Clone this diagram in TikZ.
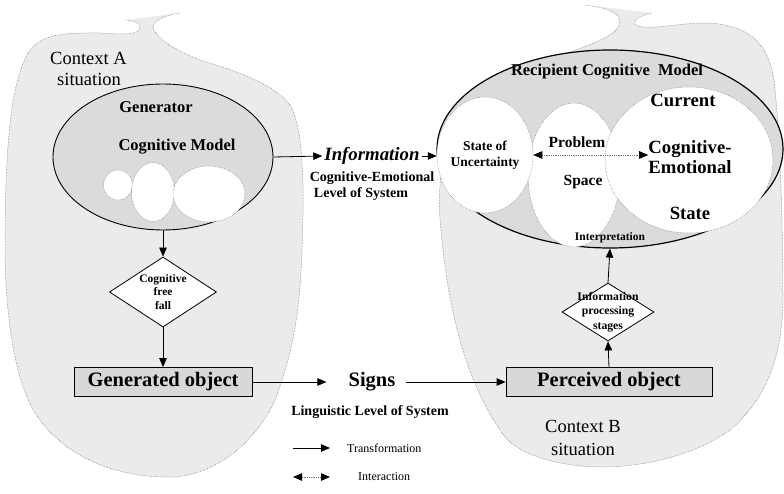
\documentclass[tikz,border=0pt]{standalone}
\usepackage{fontspec}
\setmainfont{Liberation Serif}
\usetikzlibrary{shapes.geometric, arrows.meta}
\definecolor{ctxgray}{RGB}{235,235,235}
\definecolor{modelgray}{RGB}{219,219,219}
\definecolor{boxgray}{RGB}{216,216,216}
\newcommand{\fsz}[2]{\fontsize{#1pt}{#2pt}\selectfont}

\begin{document}
\begin{tikzpicture}[
    x = 1pt, y = -1pt,
    flow/.style = {draw, -{Triangle[length=9pt, width=7.5pt]}, line width = 0.8pt},
    interact/.style = {draw = black!55, densely dotted, line width = 0.8pt,
      {Triangle[length=9pt, width=7.5pt, color=black]}-{Triangle[length=9pt, width=7.5pt, color=black]}}
  ]
  \tikzstyle {context} = [fill = ctxgray, draw = black!60, densely dotted, line width = 0.5pt]
  \tikzstyle {model} = [draw, shape = ellipse, fill = modelgray, line width = 0.9pt, inner sep = 0]
  \tikzstyle {subspace} = [draw = black!55, densely dotted, shape = ellipse, fill = white, line width = 0.5pt, inner sep = 0]
  \tikzstyle {object} = [draw, shape = rectangle, fill = boxgray, line width = 0.8pt, inner sep = 0,
    font = \bfseries\fsz{20.5}{24}]
  \tikzstyle {stage} = [draw, shape = diamond, fill = white, line width = 0.8pt, inner sep = 0]
  \tikzstyle {tag} = [align = center, inner sep = 0]
  \useasboundingbox (0,0) rectangle (784,494);
  % context situations
  \draw [context] (180,13) .. controls (162,16) and (150,22) .. (154,30)
    .. controls (160,42) and (180,52) .. (200,60)
    .. controls (240,72) and (275,85) .. (290,105)
    .. controls (305,130) and (304,200) .. (302,250)
    .. controls (300,320) and (290,360) .. (275,400)
    .. controls (262,430) and (225,474) .. (173,477)
    .. controls (120,478) and (70,460) .. (40,420)
    .. controls (12,385) and (5,300) .. (5,250)
    .. controls (5,150) and (10,80) .. (30,50)
    .. controls (45,32) and (70,33) .. (100,33)
    .. controls (120,34) and (138,36) .. (140,28)
    .. controls (141,22) and (130,20) .. (125,20);
  \draw [context] (652,13) .. controls (638,16) and (630,22) .. (638,26)
    .. controls (650,30) and (680,23) .. (705,23)
    .. controls (745,24) and (768,40) .. (774,80)
    .. controls (780,130) and (783,230) .. (783,300)
    .. controls (782,360) and (765,400) .. (730,430)
    .. controls (700,452) and (650,467) .. (603,467)
    .. controls (560,467) and (520,455) .. (505,437)
    .. controls (470,390) and (448,320) .. (440,220)
    .. controls (437,170) and (445,130) .. (480,110)
    .. controls (520,80) and (550,60) .. (570,52)
    .. controls (605,40) and (624,30) .. (619,18)
    .. controls (615,10) and (600,7) .. (585,5);
  % place nodes
  \path node (gen) [model, minimum width = 220, minimum height = 146] at (163,157) {};
  \path node (gc1) [subspace, minimum width = 29, minimum height = 30] at (118,185) {};
  \path node (gc2) [subspace, minimum width = 43, minimum height = 59] at (153,192) {};
  \path node (gc3) [subspace, minimum width = 72, minimum height = 56] at (209,194) {};
  \path node (recip) [model, line width = 1.2pt, minimum width = 346, minimum height = 198] at (610,149) {};
  \path node (problem) [subspace, minimum width = 92, minimum height = 144] at (574,175) {};
  \path node (uncert) [subspace, minimum width = 96, minimum height = 116] at (485,155) {};
  \path node (current) [subspace, minimum width = 168, minimum height = 146] at (689,160) {};
  \path node (genT) [tag, font = \bfseries\fsz{16.5}{20}] at (156,107) {Generator};
  \path node (genM) [tag, font = \bfseries\fsz{16.5}{20}] at (177,147) {Cognitive Model};
  \path node (recT) [tag, font = \bfseries\fsz{16.5}{20}] at (607,72) {Recipient Cognitive\ \ Model};
  \path node (curT) [tag, font = \bfseries\fsz{18.7}{22}] at (683,100) {Current};
  \path node (cemT) [tag, font = \bfseries\fsz{18.7}{20}] at (690,157) {Cognitive-\\Emotional};
  \path node (staT) [tag, font = \bfseries\fsz{18.7}{22}] at (690,213) {State};
  \path node (probT) [tag, font = \bfseries\fsz{15.5}{18}] at (577,142) {Problem};
  \path node (spaT) [tag, font = \bfseries\fsz{15.5}{18}] at (583,182) {Space};
  \path node (uncT) [tag, font = \bfseries\fsz{13.5}{16}] at (485,155) {State of\\Uncertainty};
  \path node (intT) [tag, font = \bfseries\fsz{11.5}{14}] at (610,238) {Interpretation};
  \path node (info) [tag, inner xsep = 2, font = \bfseries\itshape\fsz{18.8}{22}] at (372,156) {Information};
  \path node (infoA) [tag, font = \bfseries\fsz{14}{16}] at (372,178) {Cognitive-Emotional};
  \path node (infoB) [tag, font = \bfseries\fsz{14}{16}] at (361,194) {Level of System};
  \path node (fall) [stage, minimum width = 107, minimum height = 70] at (163,292) {};
  \path node (fallT) [tag, font = \bfseries\fsz{11.5}{13.5}] at (fall) {Cognitive\\free\\fall};
  \path node (gobj) [object, minimum width = 178, minimum height = 29] at (163,382) {Generated object};
  \path node (signs) [tag, inner xsep = 10, font = \bfseries\fsz{20.5}{24}] at (372,382) {Signs};
  \path node (ling) [tag, font = \bfseries\fsz{14}{16}] at (370,412) {Linguistic Level of System};
  \path node (pobj) [object, minimum width = 206, minimum height = 29] at (609,382) {Perceived object};
  \path node (stages) [stage, minimum width = 92, minimum height = 58] at (608,312) {};
  \path node (stagesT) [tag, font = \bfseries\fsz{11.7}{14.5}] at (stages) {Information\\processing\\stages};
  \path node (ctxA) [tag, anchor = base west, font = \fsz{18.5}{21}] at (50,65) {Context A};
  \path node (ctxAs) [tag, anchor = base west, font = \fsz{18.5}{21}] at (57,86) {situation};
  \path node (ctxB) [tag, anchor = base, font = \fsz{18.5}{21}] at (583,432) {Context B};
  \path node (ctxBs) [tag, anchor = base, font = \fsz{18.5}{21}] at (583,455) {situation};
  \path node (trT) [tag, anchor = west, font = \fsz{12}{14}] at (347,448) {Transformation};
  \path node (inT) [tag, anchor = west, font = \fsz{12}{14}] at (358,477) {Interaction};
  \coordinate (trA) at (293,448);
  \coordinate (trB) at (330,448);
  \coordinate (inA) at (293,477);
  \coordinate (inB) at (330,477);
  % place edges
  \foreach \a/\b in {gen.south/fall.north, fall.south/gobj.north, signs.east/pobj.west,
      pobj.north/stages.south, stages.north/recip.south, gen.east/info.west, trA/trB}
    { \draw [flow] (\a) -- (\b) ; } ;
  \draw [flow, shorten > = 12pt] (gobj.east) -- (signs.west) ;
  \draw [flow] (info.east) -- (info.east -| uncert.west) ;
  \draw [interact] (uncert.east) -- (uncert.east -| cemT.west) ;
  \draw [interact] (inA) -- (inB) ;
\end{tikzpicture}
\end{document}
